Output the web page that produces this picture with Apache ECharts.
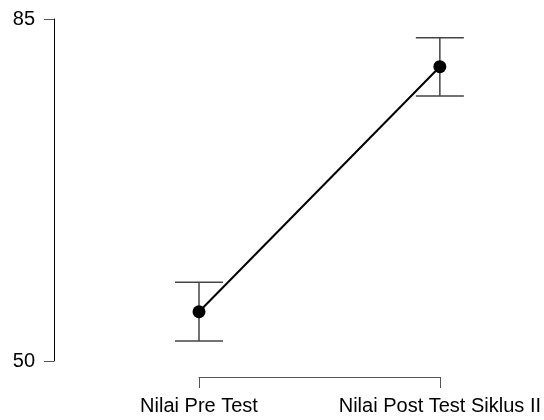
<!DOCTYPE html>
<html>
<head>
<meta charset="utf-8">
<script src="https://cdn.jsdelivr.net/npm/echarts@6/dist/echarts.min.js"></script>
<style>
html,body{margin:0;padding:0;background:#fff;}
#chart{width:544px;height:420px;}
</style>
</head>
<body>
<div id="chart"></div>
<script>
var categories = ['Nilai Pre Test', 'Nilai Post Test Siklus II'];
var means = [55.04, 80.12];
var lowerCI = [52.04, 77.12];
var upperCI = [58.05, 83.09];
var yMin = 50, yMax = 85, yInterval = 35;

var errData = categories.map(function (c, i) { return [i, lowerCI[i], upperCI[i]]; });

var chart = echarts.init(document.getElementById('chart'), null, {renderer: 'canvas'});
var font = "'Liberation Sans', Arial, sans-serif";
chart.setOption({
  animation: false,
  backgroundColor: '#ffffff',
  grid: {left: 199, right: 104, top: 19, bottom: 59},
  xAxis: {
    type: 'category',
    data: categories,
    boundaryGap: false,
    offset: 16,
    axisLine: {show: true, lineStyle: {color: '#555', width: 1}},
    axisTick: {show: true, length: 11, interval: 0, lineStyle: {color: '#555', width: 1}},
    axisLabel: {show: true, interval: 0, margin: 19, fontSize: 20, color: '#000', fontFamily: font},
    splitLine: {show: false}
  },
  yAxis: {
    type: 'value',
    min: yMin, max: yMax, interval: yInterval,
    offset: 145,
    axisLine: {show: true, lineStyle: {color: '#000', width: 1}},
    axisTick: {show: true, length: 10, lineStyle: {color: '#555', width: 1}},
    axisLabel: {show: true, margin: 19, fontSize: 20, color: '#000', fontFamily: font, showMinLabel: true, showMaxLabel: true},
    splitLine: {show: false}
  },
  series: [
    {
      type: 'custom',
      data: errData,
      z: 1,
      renderItem: function (params, api) {
        var x = api.value(0);
        var lo = api.coord([x, api.value(1)]);
        var hi = api.coord([x, api.value(2)]);
        var hw = 24;
        var style = {stroke: '#444', lineWidth: 1.5};
        return {
          type: 'group',
          children: [
            {type: 'line', shape: {x1: lo[0], y1: lo[1], x2: hi[0], y2: hi[1]}, style: style},
            {type: 'line', shape: {x1: hi[0] - hw, y1: hi[1], x2: hi[0] + hw, y2: hi[1]}, style: style},
            {type: 'line', shape: {x1: lo[0] - hw, y1: lo[1], x2: lo[0] + hw, y2: lo[1]}, style: style}
          ]
        };
      }
    },
    {
      type: 'line',
      data: means,
      z: 3,
      symbol: 'circle',
      symbolSize: 13,
      itemStyle: {color: '#000'},
      lineStyle: {color: '#000', width: 2},
      clip: false
    }
  ]
});
</script>
</body>
</html>
